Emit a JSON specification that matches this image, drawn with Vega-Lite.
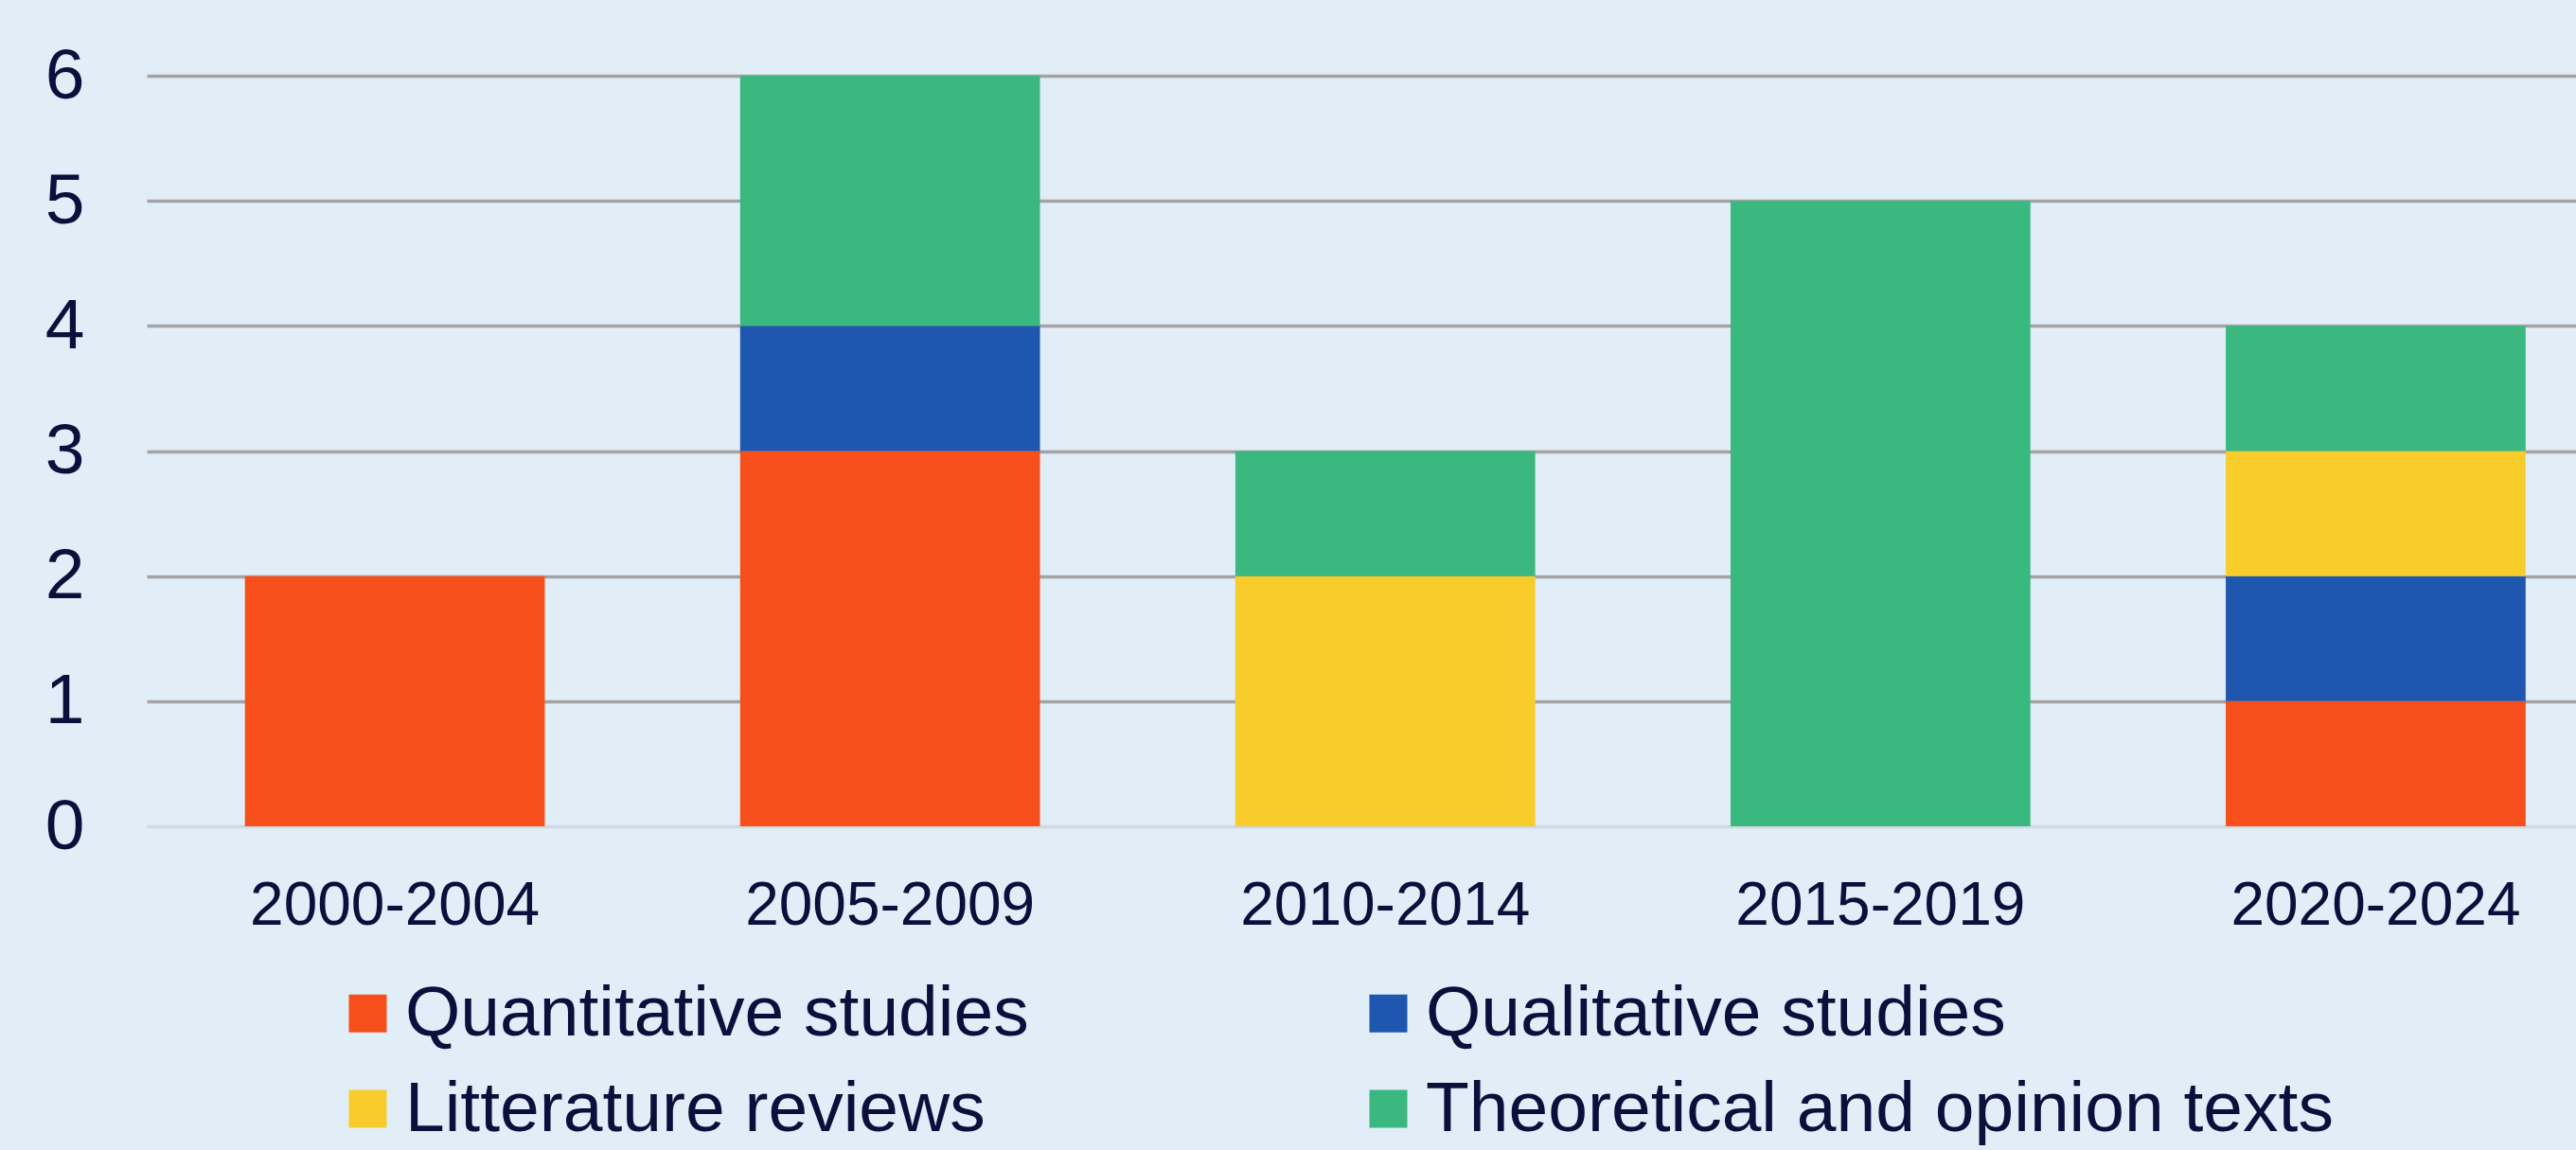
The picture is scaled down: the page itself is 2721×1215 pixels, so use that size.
{
  "$schema": "https://vega.github.io/schema/vega-lite/v6.json",
  "autosize": "none",
  "width": 2566,
  "height": 793,
  "padding": {"left": 155, "top": 80, "right": 0, "bottom": 342},
  "background": "#E1EEF8",
  "config": {
    "view": {"stroke": null},
    "font": "Liberation Sans"
  },
  "data": {
    "values": [
      {"period": "2000-2004", "type": "Quantitative studies", "count": 2},
      {"period": "2005-2009", "type": "Quantitative studies", "count": 3},
      {"period": "2005-2009", "type": "Qualitative studies", "count": 1},
      {"period": "2005-2009", "type": "Theoretical and opinion texts", "count": 2},
      {"period": "2010-2014", "type": "Litterature reviews", "count": 2},
      {"period": "2010-2014", "type": "Theoretical and opinion texts", "count": 1},
      {"period": "2015-2019", "type": "Theoretical and opinion texts", "count": 5},
      {"period": "2020-2024", "type": "Quantitative studies", "count": 1},
      {"period": "2020-2024", "type": "Qualitative studies", "count": 1},
      {"period": "2020-2024", "type": "Litterature reviews", "count": 1},
      {"period": "2020-2024", "type": "Theoretical and opinion texts", "count": 1}
    ]
  },
  "transform": [
    {"calculate": "indexof(['Quantitative studies', 'Qualitative studies', 'Litterature reviews', 'Theoretical and opinion texts'], datum.type)", "as": "stackOrder"}
  ],
  "mark": {"type": "bar"},
  "encoding": {
    "x": {
      "field": "period",
      "type": "nominal",
      "sort": null,
      "scale": {"paddingInner": 0.3945, "paddingOuter": 0.15, "align": 0.661},
      "axis": {
        "title": null,
        "labelAngle": 0,
        "labelFontSize": 64,
        "labelLimit": 0,
        "labelColor": "#0A0F3C",
        "labelBaseline": "alphabetic",
        "labelPadding": 103,
        "ticks": false,
        "tickSize": 0,
        "domainColor": "#D3D8DD",
        "domainWidth": 3,
        "grid": false
      }
    },
    "y": {
      "field": "count",
      "type": "quantitative",
      "aggregate": "sum",
      "scale": {"domain": [0, 6], "nice": false},
      "axis": {
        "title": null,
        "values": [0, 1, 2, 3, 4, 5, 6],
        "labelFontSize": 75,
        "labelColor": "#0A0F3C",
        "labelPadding": 66,
        "ticks": false,
        "tickSize": 0,
        "domain": false,
        "grid": true,
        "gridColor": {"condition": {"test": "datum.value === 0", "value": "#D3D8DD"}, "value": "#A3A3A3"},
        "gridWidth": 3.5
      }
    },
    "order": {"field": "stackOrder", "type": "quantitative", "aggregate": "min", "sort": "ascending"},
    "color": {
      "field": "type",
      "type": "nominal",
      "sort": ["Quantitative studies", "Qualitative studies", "Litterature reviews", "Theoretical and opinion texts"],
      "scale": {
        "domain": ["Quantitative studies", "Qualitative studies", "Litterature reviews", "Theoretical and opinion texts"],
        "range": ["#F64F1C", "#1F57B0", "#F8CC2A", "#3BB87F"]
      },
      "legend": {
        "title": null,
        "orient": "none",
        "legendX": 196,
        "legendY": 953,
        "direction": "horizontal",
        "columns": 2,
        "columnPadding": 342,
        "rowPadding": 25,
        "symbolType": "square",
        "symbolSize": 1600,
        "symbolStrokeWidth": 0,
        "labelFontSize": 75,
        "labelColor": "#0A0F3C",
        "labelOffset": 2,
        "labelLimit": 0
      }
    }
  }
}
